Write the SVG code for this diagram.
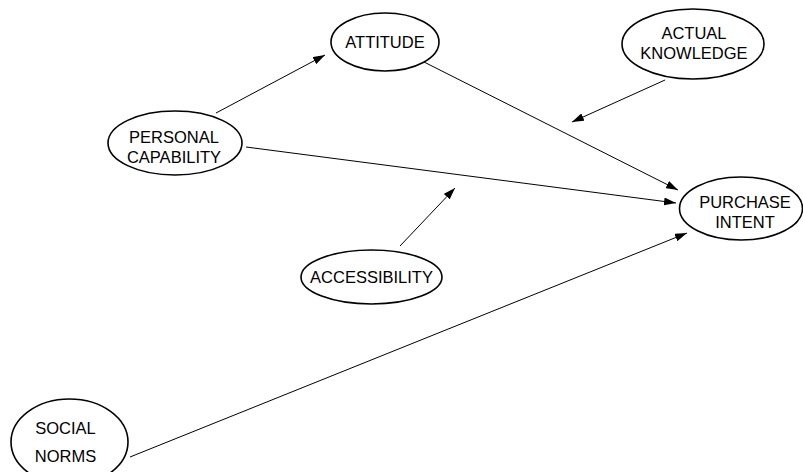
<svg xmlns="http://www.w3.org/2000/svg" width="803" height="472" viewBox="0 0 803 472">
  <style>
    .node ellipse { fill: #ffffff; stroke: #000000; stroke-width: 1.6; }
    .node text { font-family: "Liberation Sans", Arial, sans-serif; font-size: 16.5px; fill: #000000; text-anchor: middle; }
    .edge { stroke: #000000; stroke-width: 1; fill: none; }
  </style>
  <defs>
    <marker id="arrow" viewBox="0 0 12 8" refX="12" refY="4" markerWidth="12" markerHeight="8" markerUnits="userSpaceOnUse" orient="auto">
      <path d="M0,0 L12,4 L0,8 Z" fill="#000000"/>
    </marker>
  </defs>
  <rect width="803" height="472" fill="#ffffff"/>

  <!-- paths between constructs -->
  <g id="connectors">
    <line class="edge" x1="216" y1="113" x2="325" y2="55" marker-end="url(#arrow)"/>
    <line class="edge" x1="424" y1="62" x2="678" y2="190" marker-end="url(#arrow)"/>
    <line class="edge" x1="246" y1="147" x2="676" y2="203" marker-end="url(#arrow)"/>
    <line class="edge" x1="665" y1="80" x2="572" y2="122" marker-end="url(#arrow)"/>
    <line class="edge" x1="400" y1="246" x2="455" y2="188" marker-end="url(#arrow)"/>
    <line class="edge" x1="130" y1="457" x2="687" y2="233" marker-end="url(#arrow)"/>
  </g>

  <g id="attitude" class="node">
    <ellipse cx="385" cy="42" rx="54" ry="29"/>
    <text x="385" y="48">ATTITUDE</text>
  </g>
  <g id="actual-knowledge" class="node">
    <ellipse cx="693" cy="44" rx="71" ry="35"/>
    <text x="694" y="39">ACTUAL</text>
    <text x="694" y="59">KNOWLEDGE</text>
  </g>
  <g id="personal-capability" class="node">
    <ellipse cx="175" cy="143" rx="67" ry="32"/>
    <text x="174" y="143">PERSONAL</text>
    <text x="174" y="163">CAPABILITY</text>
  </g>
  <g id="purchase-intent" class="node">
    <ellipse cx="741" cy="208.5" rx="61.5" ry="31.5"/>
    <text x="745" y="208">PURCHASE</text>
    <text x="745" y="228">INTENT</text>
  </g>
  <g id="accessibility" class="node">
    <ellipse cx="371.5" cy="277" rx="70.5" ry="27"/>
    <text x="371.5" y="283">ACCESSIBILITY</text>
  </g>
  <g id="social-norms" class="node">
    <ellipse cx="69.5" cy="442" rx="58.5" ry="43"/>
    <text x="65.5" y="434">SOCIAL</text>
    <text x="65.5" y="462">NORMS</text>
  </g>
</svg>
